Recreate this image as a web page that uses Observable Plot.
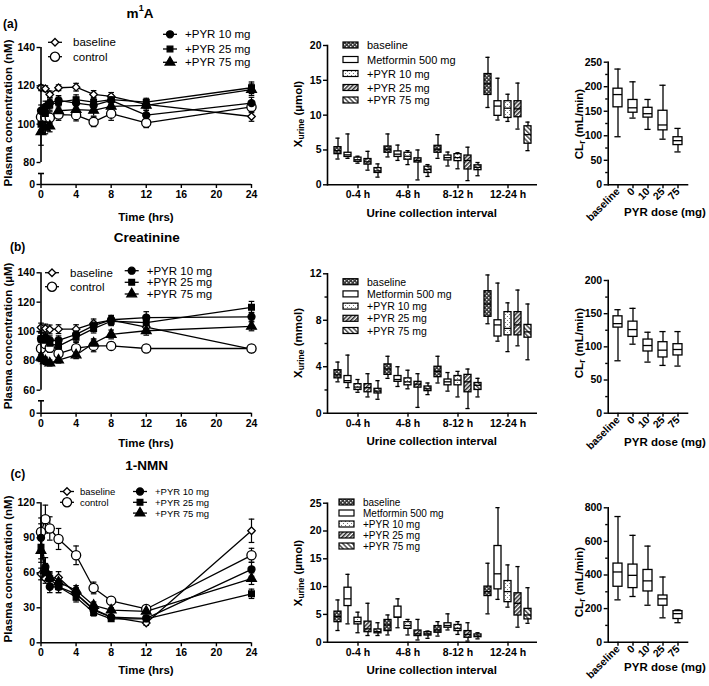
<!DOCTYPE html>
<html><head><meta charset="utf-8">
<script src="https://cdn.jsdelivr.net/npm/d3@7"></script>
<script src="https://cdn.jsdelivr.net/npm/@observablehq/plot@0.6"></script>
<style>
body{margin:0;background:#fff;}
#fig{position:relative;width:709px;height:686px;font-family:"Liberation Sans",Arial,sans-serif;overflow:hidden;}
#fig svg{position:absolute;}
#fig svg [aria-label$="tick label"]{font-weight:bold;}
#fig svg [aria-label$="-axis tick"]{stroke-width:1.4px;}
</style>
</head><body><div id="fig"></div>
<script>
// ---------- data ----------
const times = [0, 0.5, 1, 2, 4, 6, 8, 12, 24];
const timeTicks = [0, 4, 8, 12, 16, 20, 24];
const timeSeries = ["baseline", "control", "+PYR 10 mg", "+PYR 25 mg", "+PYR 75 mg"];

// m1A plasma (nM): mean and SEM
const m1aBaseline = [119, 118.5, 115.5, 119, 119.3, 115.5, 114.5, 110.3, 104];
const m1aBaselineErr = [1.5, 1.5, 1.8, 1.5, 2, 2, 2, 2, 2.5];
const m1aControl = [103.8, 103.8, 103.4, 105, 104.7, 101.2, 105.5, 100.7, 109];
const m1aControlErr = [3, 3, 3, 3, 3, 2.5, 3.5, 2.5, 3];
const m1aPyr10 = [107, 109, 111, 112.4, 111, 109.8, 112.4, 104.7, 111];
const m1aPyr10Err = [3, 3, 3, 2.5, 3, 2.5, 2.5, 2.5, 3];
const m1aPyr25 = [100, 105.5, 110, 111.5, 112.8, 111.5, 112.8, 111.5, 119];
const m1aPyr25Err = [3, 3, 3, 2.5, 2.5, 2.5, 2.5, 2, 3];
const m1aPyr75 = [96, 98, 99, 107, 107.6, 107.2, 109.3, 109.8, 118];
const m1aPyr75Err = [7, 3, 3, 3, 3, 3, 3, 2.5, 3];

// Creatinine plasma (µM)
const creBaseline = [102.7, 102, 101.4, 101.6, 101.6, 105.5, 107.7, 103, 88];
const creBaselineErr = [3, 3, 3, 3, 3, 3, 3, 3, 2];
const creControl = [88.4, 91.4, 88.9, 85, 88.6, 90.2, 90.2, 88.4, 88.4];
const creControlErr = [4, 4, 3, 4, 4, 4, 2.5, 2.5, 2.5];
const crePyr10 = [95, 96, 94, 94, 98, 104, 108, 109.5, 110];
const crePyr10Err = [4, 3, 3, 3, 3, 3, 3, 4, 3];
const crePyr25 = [95, 94, 92, 90, 96, 102, 107, 106, 116.5];
const crePyr25Err = [4, 3, 3, 3, 3, 3, 3, 3, 4];
const crePyr75 = [82.5, 80, 78.5, 80.5, 84, 92, 98, 100.5, 103.5];
const crePyr75Err = [3, 2.5, 2, 2, 2.5, 3, 3, 3, 3];

// 1-NMN plasma (nM)
const nmnBaseline = [59, 55, 55, 56, 42, 29, 22, 17, 96];
const nmnBaselineErr = [5, 4, 4, 5, 5, 3, 2, 2, 10];
const nmnControl = [95, 106, 98, 89, 75, 47, 36, 29, 75];
const nmnControlErr = [12, 12, 10, 9, 8, 5, 3, 3, 6];
const nmnPyr10 = [90, 65, 48, 48, 42, 28, 22, 21, 63];
const nmnPyr10Err = [12, 8, 5, 5, 5, 3, 2, 2, 6];
const nmnPyr25 = [82, 60, 55, 48, 39, 26, 20.5, 20.5, 42];
const nmnPyr25Err = [10, 6, 5, 5, 4, 3, 2, 2, 4];
const nmnPyr75 = [79, 62, 56, 52, 45, 32, 28, 27, 55];
const nmnPyr75Err = [10, 6, 5, 5, 4, 3, 2, 2, 5];

// Urinary excretion boxes: per interval [min, q1, median, q3, max]
const intervals = ["0-4 h", "4-8 h", "8-12 h", "12-24 h"];
const urineSeries = ["baseline", "Metformin 500 mg", "+PYR 10 mg", "+PYR 25 mg", "+PYR 75 mg"];

const m1aUrineBaseline = [[3.7, 4.4, 4.9, 5.4, 6.7], [4.0, 4.6, 5.1, 5.5, 7.3], [3.8, 4.6, 5.1, 5.6, 7.2], [11.1, 12.9, 14.5, 15.9, 18.3]];
const m1aUrineMet = [[3.8, 4.0, 4.3, 4.6, 7.3], [3.5, 4.0, 4.4, 4.8, 5.7], [2.7, 3.5, 3.9, 4.2, 4.7], [9.3, 9.9, 11.3, 12.0, 15.3]];
const m1aUrinePyr10 = [[3.1, 3.3, 3.6, 3.9, 4.1], [2.9, 3.6, 4.1, 4.6, 4.9], [2.3, 3.4, 3.9, 4.4, 4.6], [9.1, 9.6, 11.0, 12.0, 13.0]];
const m1aUrinePyr25 = [[2.1, 2.9, 3.3, 3.7, 4.8], [0.7, 3.2, 3.5, 3.8, 5.0], [0.6, 2.2, 3.5, 4.2, 5.4], [8.0, 9.7, 10.9, 12.0, 14.6]];
const m1aUrinePyr75 = [[1.1, 1.7, 2.0, 2.4, 3.0], [1.2, 1.7, 2.2, 2.6, 2.9], [1.3, 2.1, 2.5, 2.8, 3.2], [4.9, 5.9, 7.2, 8.4, 9.0]];

const creUrineBaseline = [[2.7, 3.0, 3.3, 3.7, 4.4], [3.0, 3.3, 3.8, 4.2, 4.9], [2.6, 3.1, 3.6, 4.0, 4.9], [7.7, 8.3, 9.4, 10.5, 11.9]];
const creUrineMet = [[2.2, 2.6, 2.8, 3.2, 5.0], [2.3, 2.7, 2.9, 3.2, 4.0], [1.9, 2.4, 2.7, 2.9, 3.5], [6.2, 6.6, 7.6, 8.0, 11.2]];
const creUrinePyr10 = [[1.8, 2.0, 2.25, 2.5, 2.9], [2.1, 2.4, 2.7, 3.0, 3.7], [1.4, 2.4, 2.85, 3.2, 3.6], [5.3, 6.7, 7.3, 8.7, 9.5]];
const creUrinePyr25 = [[1.4, 1.8, 2.2, 2.5, 3.4], [0.5, 2.2, 2.5, 2.7, 3.4], [0.4, 1.8, 2.7, 3.3, 3.8], [5.8, 6.7, 7.6, 8.7, 10.6]];
const creUrinePyr75 = [[1.2, 1.7, 1.9, 2.1, 2.8], [1.6, 1.9, 2.1, 2.3, 2.6], [1.4, 2.0, 2.4, 2.6, 3.0], [4.6, 6.5, 7.0, 7.6, 9.4]];

const nmnUrineBaseline = [[2.1, 3.6, 4.6, 5.5, 7.6], [1.3, 2.0, 3.1, 4.0, 4.9], [1.1, 1.7, 2.2, 2.9, 3.7], [5.1, 8.3, 9.1, 10.0, 14.2]];
const nmnUrineMet = [[3.3, 6.5, 7.8, 9.8, 12.2], [2.6, 4.4, 4.5, 6.4, 7.8], [2.2, 2.6, 3.0, 3.4, 5.1], [7.7, 9.5, 12.3, 17.3, 24.2]];
const nmnUrinePyr10 = [[1.7, 3.2, 3.7, 4.4, 5.4], [1.3, 2.4, 3.0, 3.6, 4.1], [1.4, 2.0, 2.5, 3.1, 3.7], [6.3, 7.2, 9.1, 11.0, 13.9]];
const nmnUrinePyr25 = [[1.2, 1.8, 2.4, 3.7, 7.0], [0.4, 1.1, 1.5, 2.1, 4.1], [0.2, 0.8, 1.4, 2.0, 3.5], [2.7, 4.8, 7.0, 8.8, 13.6]];
const nmnUrinePyr75 = [[1.2, 1.6, 1.9, 2.3, 3.5], [0.7, 1.2, 1.5, 1.8, 2.0], [0.6, 0.9, 1.1, 1.4, 1.7], [3.4, 4.1, 4.9, 6.0, 9.8]];

// Renal clearance boxes: per dose [min, q1, median, q3, max]
const doses = ["baseline", "0", "10", "25", "75"];
const m1aClr = [[98, 158, 184, 196, 236], [136, 147, 157, 173, 210], [113, 137, 145, 157, 174], [93, 111, 122, 151, 203], [67, 81, 90, 97, 115]];
const creClr = [[79, 129, 135, 146, 156], [104, 115, 126, 138, 158], [77, 93, 102, 111, 122], [72, 84, 95, 107, 123], [71, 87, 96, 104, 123]];
const nmnClr = [[252, 330, 418, 468, 748], [272, 322, 398, 462, 636], [220, 302, 365, 430, 572], [145, 217, 258, 278, 388], [116, 138, 170, 185, 192]];

// ---------- helpers ----------
const fig = document.getElementById("fig");
const FONT = '"Liberation Sans", Arial, sans-serif';
const baseStyle = {fontFamily: FONT, fontSize: "10.5px", color: "black", background: "transparent", overflow: "visible"};
function place(svg, left, top) { svg.style.left = left + "px"; svg.style.top = top + "px"; fig.appendChild(svg); }
const capSymbol = {draw(ctx, size) { const r = Math.sqrt(size / Math.PI); ctx.moveTo(-r, 0); ctx.lineTo(r, 0); }};
const markerStyle = {
  "baseline":   {symbol: "diamond2", r: 3.4, fill: "white"},
  "control":    {symbol: "circle",   r: 4.6, fill: "white"},
  "+PYR 10 mg": {symbol: "circle",   r: 3.5, fill: "black"},
  "+PYR 25 mg": {symbol: "square",   r: 3.2, fill: "black"},
  "+PYR 75 mg": {symbol: "triangle", r: 3.6, fill: "black"}
};
const patternOf = {"baseline": "url(#pBase)", "Metformin 500 mg": "white", "+PYR 10 mg": "url(#p10)", "+PYR 25 mg": "url(#p25)", "+PYR 75 mg": "url(#p75)"};

function timePanel(cfg) {
  const rows = [];
  cfg.series.forEach((s, i) => times.forEach((t, j) => rows.push({series: timeSeries[i], t, m: s[0][j], e: s[1][j]})));
  const marks = [
    Plot.ruleX(rows, {x: "t", y1: d => d.m - d.e, y2: d => d.m + d.e, stroke: "black", strokeWidth: 1.2}),
    Plot.dot(rows, {x: "t", y: d => d.m + d.e, symbol: capSymbol, r: 2.8, stroke: "black", fill: "none", strokeWidth: 1.2}),
    Plot.dot(rows, {x: "t", y: d => d.m - d.e, symbol: capSymbol, r: 2.8, stroke: "black", fill: "none", strokeWidth: 1.2}),
    Plot.line(rows, {x: "t", y: "m", z: "series", stroke: "black", strokeWidth: 1.3})
  ];
  for (const name of timeSeries) {
    const st = markerStyle[name];
    marks.push(Plot.dot(rows.filter(d => d.series === name), {x: "t", y: "m", symbol: st.symbol, r: st.r, fill: st.fill, stroke: "black", strokeWidth: 1.3}));
  }
  for (const [a, b] of cfg.segments) marks.push(Plot.ruleX([0], {y1: () => a, y2: () => b, stroke: "black", strokeWidth: 1.6}));
  if (cfg.breakTop != null) marks.push(Plot.dot([0], {x: () => 0, y: () => cfg.breakTop, symbol: capSymbol, r: 3, stroke: "black", strokeWidth: 1.6}));
  marks.push(Plot.ruleY([0], {stroke: "black", strokeWidth: 1.6}));
  const svg = Plot.plot({
    width: 290, height: cfg.height, marginLeft: 40.5, marginRight: 39, marginTop: cfg.marginTop, marginBottom: cfg.marginBottom,
    style: baseStyle,
    x: {domain: [0, 24], ticks: timeTicks, tickSize: 4, tickPadding: 2, label: null},
    y: {type: "linear", domain: cfg.yDomain, range: cfg.yRange, ticks: cfg.yTicks, tickSize: 4, tickPadding: 2, label: null},
    marks
  });
  place(svg, 0, cfg.top);
}

function boxRows(keys, groups, stats) {
  return stats.map((s, i) => ({key: keys[i], group: groups[i], min: s[0], q1: s[1], med: s[2], q3: s[3], max: s[4]}));
}
function boxMarks(rows, fillFn) {
  return [
    Plot.ruleX(rows, {x: "key", y1: "min", y2: "max", stroke: "black", strokeWidth: 1.3}),
    Plot.tickY(rows, {x: "key", y: "min", insetLeft: 1.4, insetRight: 1.4, stroke: "black", strokeWidth: 1.3}),
    Plot.tickY(rows, {x: "key", y: "max", insetLeft: 1.4, insetRight: 1.4, stroke: "black", strokeWidth: 1.3}),
    Plot.barY(rows, {x: "key", y1: "q1", y2: "q3", fill: fillFn, stroke: "black", strokeWidth: 1.3}),
    Plot.tickY(rows, {x: "key", y: "med", stroke: "black", strokeWidth: 1.3})
  ];
}

function urinePanel(cfg) {
  const keys = [], groups = [], stats = [], series = [];
  intervals.forEach((iv, g) => urineSeries.forEach((s, k) => {
    keys.push(iv + "|" + s); groups.push(iv); series.push(s); stats.push(cfg.data[k][g]);
  }));
  const rows = boxRows(keys, groups, stats).map((d, i) => ({...d, series: series[i]}));
  const midKeys = intervals.map(iv => iv + "|" + urineSeries[2]);
  const marks = [
    ...boxMarks(rows, d => patternOf[d.series]),
    Plot.axisY({ticks: cfg.yTicks, tickSize: 4, tickPadding: 2, label: null}),
    ...(cfg.minor ? [Plot.axisY({ticks: cfg.minor, tickSize: 2.5, tickFormat: () => "", label: null})] : []),
    Plot.axisX({ticks: midKeys, tickSize: 4, tickPadding: 2, tickFormat: k => k.split("|")[0], label: null}),
    Plot.ruleY([0], {stroke: "black", strokeWidth: 1.6}),
    Plot.frame({anchor: "left", stroke: "black", strokeWidth: 1.6})
  ];
  const svg = Plot.plot({
    width: 252, height: cfg.height, marginLeft: 37, marginRight: 5, marginTop: cfg.marginTop, marginBottom: cfg.marginBottom,
    style: baseStyle,
    x: {type: "band", domain: keys, paddingInner: 0.3, paddingOuter: 0.15},
    y: {domain: cfg.yDomain},
    color: {type: "identity"},
    marks
  });
  place(svg, 290, cfg.top);
}

function clrPanel(cfg) {
  const rows = boxRows(doses, doses, cfg.data);
  const marks = [
    ...boxMarks(rows, () => "white"),
    Plot.axisY({ticks: cfg.yTicks, tickSize: 4, tickPadding: 2, label: null}),
    Plot.axisY({ticks: cfg.minor, tickSize: 2.5, tickFormat: () => "", label: null}),
    Plot.axisX({tickSize: 4, tickPadding: 1, tickRotate: -45, label: null}),
    Plot.ruleY([0], {stroke: "black", strokeWidth: 1.6}),
    Plot.frame({anchor: "left", stroke: "black", strokeWidth: 1.6})
  ];
  const svg = Plot.plot({
    width: 149, height: cfg.height, marginLeft: 47.7, marginRight: 20.7, marginTop: cfg.marginTop, marginBottom: 36,
    style: baseStyle,
    x: {type: "band", domain: doses, paddingInner: 0.38, paddingOuter: 0.31},
    y: {domain: cfg.yDomain},
    marks
  });
  place(svg, 560, cfg.top);
}

// ---------- panels ----------
timePanel({top: 40, height: 164, marginTop: 7, marginBottom: 20,
  yDomain: [0, 5, 80, 140], yRange: [144, 133, 122, 7], yTicks: [0, 80, 100, 120, 140],
  segments: [[0, 5], [80, 140]], breakTop: 5,
  series: [[m1aBaseline, m1aBaselineErr], [m1aControl, m1aControlErr], [m1aPyr10, m1aPyr10Err], [m1aPyr25, m1aPyr25Err], [m1aPyr75, m1aPyr75Err]]});
timePanel({top: 260, height: 173, marginTop: 12.3, marginBottom: 20.3,
  yDomain: [0, 5, 60, 140], yRange: [152.7, 140.3, 129.7, 12.3], yTicks: [0, 60, 80, 100, 120, 140],
  segments: [[0, 5], [60, 140]], breakTop: 5,
  series: [[creBaseline, creBaselineErr], [creControl, creControlErr], [crePyr10, crePyr10Err], [crePyr25, crePyr25Err], [crePyr75, crePyr75Err]]});
timePanel({top: 490, height: 172, marginTop: 12.3, marginBottom: 19.7,
  yDomain: [0, 120], yRange: [152.3, 12.3], yTicks: [0, 30, 60, 90, 120],
  segments: [[0, 120]], breakTop: null,
  series: [[nmnBaseline, nmnBaselineErr], [nmnControl, nmnControlErr], [nmnPyr10, nmnPyr10Err], [nmnPyr25, nmnPyr25Err], [nmnPyr75, nmnPyr75Err]]});

urinePanel({top: 35, height: 171.3, marginTop: 10, marginBottom: 22, yDomain: [0, 20], yTicks: [0, 5, 10, 15, 20],
  data: [m1aUrineBaseline, m1aUrineMet, m1aUrinePyr10, m1aUrinePyr25, m1aUrinePyr75]});
urinePanel({top: 263, height: 172, marginTop: 10.3, marginBottom: 22.3, yDomain: [0, 12], yTicks: [0, 4, 8, 12], minor: [2, 6, 10],
  data: [creUrineBaseline, creUrineMet, creUrinePyr10, creUrinePyr25, creUrinePyr75]});
urinePanel({top: 492, height: 172, marginTop: 10.7, marginBottom: 22.3, yDomain: [0, 25], yTicks: [0, 5, 10, 15, 20, 25],
  data: [nmnUrineBaseline, nmnUrineMet, nmnUrinePyr10, nmnUrinePyr25, nmnUrinePyr75]});

clrPanel({top: 50, height: 170.3, marginTop: 11.7, yDomain: [0, 250], yTicks: [0, 50, 100, 150, 200, 250], minor: [25, 75, 125, 175, 225], data: m1aClr});
clrPanel({top: 268, height: 180.7, marginTop: 12, yDomain: [0, 200], yTicks: [0, 50, 100, 150, 200], minor: [25, 75, 125, 175], data: creClr});
clrPanel({top: 495, height: 182.7, marginTop: 12.3, yDomain: [0, 800], yTicks: [0, 200, 400, 600, 800], minor: [100, 300, 500, 700], data: nmnClr});

// ---------- overlay: patterns, titles, labels, legends ----------
const ov = d3.select(fig).append("svg").attr("width", 709).attr("height", 686)
  .style("left", "0px").style("top", "0px").style("pointer-events", "none")
  .attr("font-family", FONT);
const defs = ov.append("defs");
let p = defs.append("pattern").attr("id", "pBase").attr("width", 4).attr("height", 4).attr("patternUnits", "userSpaceOnUse");
p.append("rect").attr("width", 4).attr("height", 4).attr("fill", "#3c3c3c");
p.append("rect").attr("x", 0).attr("y", 0).attr("width", 1.4).attr("height", 1.4).attr("fill", "#e8e8e8");
p.append("rect").attr("x", 2).attr("y", 2).attr("width", 1.4).attr("height", 1.4).attr("fill", "#e8e8e8");
p = defs.append("pattern").attr("id", "p10").attr("width", 4).attr("height", 4).attr("patternUnits", "userSpaceOnUse");
p.append("rect").attr("width", 4).attr("height", 4).attr("fill", "white");
p.append("rect").attr("x", 1).attr("y", 1).attr("width", 1).attr("height", 1).attr("fill", "#777");
p.append("rect").attr("x", 3).attr("y", 3).attr("width", 1).attr("height", 1).attr("fill", "#777");
p = defs.append("pattern").attr("id", "p25").attr("width", 3).attr("height", 3).attr("patternUnits", "userSpaceOnUse").attr("patternTransform", "rotate(45)");
p.append("rect").attr("width", 3).attr("height", 3).attr("fill", "white");
p.append("line").attr("x1", 0.8).attr("y1", 0).attr("x2", 0.8).attr("y2", 3).attr("stroke", "#222").attr("stroke-width", 1.5);
p = defs.append("pattern").attr("id", "p75").attr("width", 3.4).attr("height", 3.4).attr("patternUnits", "userSpaceOnUse").attr("patternTransform", "rotate(-45)");
p.append("rect").attr("width", 3.4).attr("height", 3.4).attr("fill", "white");
p.append("line").attr("x1", 0.8).attr("y1", 0).attr("x2", 0.8).attr("y2", 3.4).attr("stroke", "#222").attr("stroke-width", 1.2);

function txt(x, y, s, o = {}) {
  return ov.append("text").attr("x", x).attr("y", y).attr("dominant-baseline", "central")
    .attr("text-anchor", o.anchor || "start").attr("font-size", o.size || 11).attr("font-weight", o.bold ? "bold" : "normal").text(s);
}
// titles
const t1 = ov.append("text").attr("x", 140).attr("y", 12.5).attr("dominant-baseline", "central").attr("text-anchor", "middle").attr("font-size", 13.5).attr("font-weight", "bold");
t1.append("tspan").text("m");
t1.append("tspan").attr("dy", -5).attr("font-size", 9).text("1");
t1.append("tspan").attr("dy", 5).text("A");
txt(146.7, 237.3, "Creatinine", {anchor: "middle", size: 13.5, bold: true});
txt(146.7, 465.7, "1-NMN", {anchor: "middle", size: 13.5, bold: true});
txt(3, 24, "(a)", {size: 12, bold: true});
txt(10, 247.3, "(b)", {size: 12, bold: true});
txt(10.5, 474, "(c)", {size: 12, bold: true});

// y labels
function ylab(x, y, parts) {
  const t = ov.append("text").attr("transform", `translate(${x},${y}) rotate(-90)`).attr("text-anchor", "middle")
    .attr("dominant-baseline", "central").attr("font-size", 11.5).attr("font-weight", "bold");
  parts.forEach(([s, dy, size]) => { const ts = t.append("tspan").text(s); if (dy) ts.attr("dy", dy); if (size) ts.attr("font-size", size); });
}
[["nM", 113], ["µM", 336], ["nM", 569]].forEach(([u, y]) => ylab(8, y, [[`Plasma concentration (${u})`]]));
[["µmol", 114], ["mmol", 343], ["µmol", 573]].forEach(([u, y]) => ylab(298, y, [["X"], ["urine", 3, 8.5], [` (${u})`, -3]]));
[124, 343, 582].forEach(y => ylab(579, y, [["CL"], ["r", 3, 8.5], [" (mL/min)", -3]]));
// x labels
[217, 443, 670].forEach(y => txt(146, y, "Time (hrs)", {anchor: "middle", size: 11.5, bold: true}));
[212.7, 440.7, 670].forEach(y => txt(431.7, y, "Urine collection interval", {anchor: "middle", size: 11.5, bold: true}));
[211.7, 441.7, 666.7].forEach(y => txt(665, y, "PYR dose (mg)", {anchor: "middle", size: 11.5, bold: true}));

// time legends
function timeLegend(cx, tx, names, ys, size) {
  names.forEach((name, i) => {
    const st = markerStyle[name], y = ys[i];
    ov.append("line").attr("x1", cx - 7).attr("x2", cx + 7).attr("y1", y).attr("y2", y).attr("stroke", "black").attr("stroke-width", 1.3);
    const sym = {diamond2: d3.symbolDiamond2, circle: d3.symbolCircle, square: d3.symbolSquare, triangle: d3.symbolTriangle}[st.symbol];
    ov.append("path").attr("d", d3.symbol(sym, Math.PI * st.r * st.r)()).attr("transform", `translate(${cx},${y})`)
      .attr("fill", st.fill).attr("stroke", "black").attr("stroke-width", 1.3);
    txt(tx, y, name, {size});
  });
}
timeLegend(55, 73, timeSeries.slice(0, 2), [42.3, 56.7], 11.5);
timeLegend(170, 185, timeSeries.slice(2), [34.3, 49, 62.3], 11.5);
timeLegend(52, 70, timeSeries.slice(0, 2), [272.7, 286.7], 11.5);
timeLegend(131.7, 146.7, timeSeries.slice(2), [270.7, 282.3, 294], 11.5);
timeLegend(67, 80, timeSeries.slice(0, 2), [491.5, 502.3], 9.5);
timeLegend(140, 155, timeSeries.slice(2), [491.5, 502.3, 513.1], 9.5);

// urine legends
function urineLegend(x, tx, ys, size) {
  urineSeries.forEach((name, i) => {
    ov.append("rect").attr("x", x).attr("y", ys[i] - 3).attr("width", 15).attr("height", 6)
      .attr("fill", patternOf[name]).attr("stroke", "black").attr("stroke-width", 1.2);
    txt(tx, ys[i], name, {size});
  });
}
urineLegend(343, 367, [45, 59.5, 73.5, 87.5, 100], 11);
urineLegend(343, 367, [281.7, 293.9, 306.1, 318.3, 330.5], 10.5);
urineLegend(339, 363, [502, 513, 524, 535, 546], 10);
</script>
</body></html>
